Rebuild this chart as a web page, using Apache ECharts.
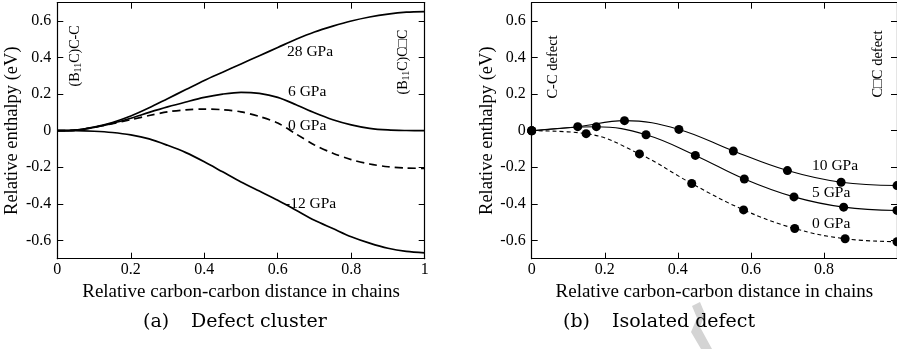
<!DOCTYPE html>
<html><head><meta charset="utf-8">
<script src="https://cdn.jsdelivr.net/npm/echarts@6/dist/echarts.min.js"></script>
<style>html,body{margin:0;padding:0;background:#fff}#c{width:897px;height:349px}</style>
</head><body><div id="c"></div>
<script>
// Panel (a): defect cluster
const clusterX = [0,0.05,0.1,0.15,0.2,0.25,0.3,0.35,0.4,0.45,0.5,0.55,0.6,0.65,0.7,0.75,0.8,0.85,0.9,0.95,1];
const cluster28 = [0,0.003,0.02,0.045,0.08,0.125,0.175,0.225,0.275,0.32,0.365,0.41,0.455,0.5,0.54,0.572,0.6,0.622,0.638,0.648,0.651];
const cluster6  = [0,0.003,0.018,0.04,0.068,0.1,0.13,0.157,0.182,0.2,0.21,0.204,0.182,0.142,0.098,0.06,0.032,0.013,0.004,0.001,0];
const cluster0  = [0,0.003,0.018,0.038,0.06,0.083,0.103,0.114,0.118,0.115,0.103,0.078,0.042,-0.018,-0.078,-0.123,-0.158,-0.182,-0.197,-0.204,-0.206];
const clusterM12= [0,0,-0.003,-0.01,-0.023,-0.045,-0.08,-0.12,-0.17,-0.225,-0.28,-0.33,-0.38,-0.435,-0.49,-0.535,-0.58,-0.615,-0.643,-0.66,-0.668];
// Panel (b): isolated defect
const iso10X = [0,0.126,0.254,0.403,0.552,0.700,0.847,1.0];
const iso10Y = [0,0.022,0.055,0.007,-0.111,-0.218,-0.282,-0.30];
const iso5X  = [0,0.177,0.313,0.448,0.582,0.718,0.854,1.0];
const iso5Y  = [0,0.022,-0.022,-0.135,-0.264,-0.362,-0.418,-0.436];
const iso0X  = [0,0.149,0.295,0.438,0.580,0.720,0.858,1.0];
const iso0Y  = [0,-0.016,-0.127,-0.289,-0.433,-0.535,-0.591,-0.607];
const yTicks = [-0.6,-0.4,-0.2,0,0.2,0.4,0.6];
const xTicksA = [0,0.2,0.4,0.6,0.8,1];
const xTicksB = [0,0.2,0.4,0.6,0.8];
const yName = 'Relative enthalpy (eV)';
const xName = 'Relative carbon-carbon distance in chains';

const FONT = '"Liberation Serif", "DejaVu Serif", serif';
const CAPFONT = '"DejaVu Serif", serif';
const zip = (xs, ys) => xs.map((x, i) => [x, ys[i]]);

function xAxisPair(gi, ticks) {
  const base = {
    type: 'value', gridIndex: gi, min: 0, max: 1,
    axisLine: {show: true, onZero: false, lineStyle: {color: '#000', width: 1.2}},
    axisTick: {show: true, inside: true, length: 6, customValues: ticks, lineStyle: {color: '#000', width: 1}},
    splitLine: {show: false}
  };
  return [
    Object.assign({}, base, {
      position: 'bottom',
      axisLabel: {customValues: ticks, color: '#000', fontFamily: FONT, fontSize: 16, margin: 3,
        formatter: v => String(v)},
      name: xName, nameLocation: 'middle', nameGap: 17,
      nameTextStyle: {color: '#000', fontFamily: FONT, fontSize: 19}
    }),
    Object.assign({}, base, {position: 'top', axisLabel: {show: false}})
  ];
}
function yAxisPair(gi, gap) {
  const base = {
    type: 'value', gridIndex: gi, min: -0.7, max: 0.7,
    axisLine: {show: true, onZero: false, lineStyle: {color: '#000', width: 1.2}},
    axisTick: {show: true, inside: true, length: 6, customValues: yTicks, lineStyle: {color: '#000', width: 1}},
    splitLine: {show: false}
  };
  return [
    Object.assign({}, base, {
      position: 'left',
      axisLabel: {customValues: yTicks, color: '#000', fontFamily: FONT, fontSize: 16, margin: 6,
        formatter: v => String(v)},
      name: yName, nameLocation: 'middle', nameGap: gap,
      nameTextStyle: {color: '#000', fontFamily: FONT, fontSize: 18.5}
    }),
    Object.assign({}, base, {position: 'right', axisLabel: {show: false}})
  ];
}

const lineA = (data, dashed) => ({
  type: 'line', xAxisIndex: 0, yAxisIndex: 0, data, smooth: 0.3, showSymbol: false,
  lineStyle: {color: '#000', width: 1.7, type: dashed ? [8, 5] : 'solid'}, silent: true
});
const lineB = (data, dashed) => ({
  type: 'line', xAxisIndex: 2, yAxisIndex: 2, data, smooth: 0.4, showSymbol: true,
  symbol: 'circle', symbolSize: 9, itemStyle: {color: '#000'},
  lineStyle: {color: '#000', width: 1.1, type: dashed ? [4, 3] : 'solid'}, silent: true
});

const txt = (x, y, text, size, font, align) => ({
  type: 'text', x, y, z: 100,
  style: {text, fill: '#000', font: size + 'px ' + (font || FONT), align: align || 'left', verticalAlign: 'middle'}
});
const vtxt = (x, y, text, size, rich) => ({
  type: 'text', x, y, rotation: Math.PI / 2, z: 100,
  style: {text, fill: '#000', fontFamily: FONT, fontSize: size, align: 'center', verticalAlign: 'middle', rich}
});
const subRich = {s: {fontFamily: FONT, fontSize: 10, verticalAlign: 'bottom', padding: [6, 0, 0, 0], fill: '#000'},
                n: {fontFamily: FONT, fontSize: 14, fill: '#000'}};

const chart = echarts.init(document.getElementById('c'), null, {renderer: 'canvas'});
chart.setOption({
  animation: false,
  backgroundColor: '#fff',
  grid: [
    {left: 57.3, right: 472.3, top: 2.7, bottom: 90.3, containLabel: false},
    {left: 531.7, right: -3, top: 2.7, bottom: 90.3, containLabel: false}
  ],
  xAxis: [...xAxisPair(0, xTicksA), ...xAxisPair(1, xTicksB)],
  yAxis: [...yAxisPair(0, 33), ...yAxisPair(1, 30)],
  series: [
    lineA(zip(clusterX, cluster28), false),
    lineA(zip(clusterX, cluster6), false),
    lineA(zip(clusterX, cluster0), true),
    lineA(zip(clusterX, clusterM12), false),
    lineB(zip(iso10X, iso10Y), false),
    lineB(zip(iso5X, iso5Y), false),
    lineB(zip(iso0X, iso0Y), true)
  ],
  graphic: [
    txt(287, 52, '28 GPa', 15.5), txt(288, 92, '6 GPa', 15.5), txt(288, 126, '0 GPa', 15.5), txt(285, 204, '-12 GPa', 15.5),
    txt(812, 166, '10 GPa', 15.5), txt(812, 193, '5 GPa', 15.5), txt(812, 224, '0 GPa', 15.5),
    vtxt(75, 56, '{n|(B}{s|11}{n|C)C-C}', 14, subRich),
    vtxt(403, 62, '{n|(B}{s|11}{n|C)C□C}', 14, subRich),
    vtxt(553, 67, 'C-C defect', 14.5),
    vtxt(878, 64, 'C□C defect', 14.5),
    {type: 'polygon', z: 1, shape: {points: [[692,306],[700,302],[705,314],[700,327],[712,349],[701,349],[691,332],[697,318]]},
      style: {fill: '#d4d4d4'}},
    txt(143, 322, '(a)', 19, CAPFONT),
    txt(191, 322, 'Defect cluster', 19, CAPFONT),
    txt(563, 322, '(b)', 19, CAPFONT),
    txt(612, 322, 'Isolated defect', 19, CAPFONT)
  ]
});
</script></body></html>
